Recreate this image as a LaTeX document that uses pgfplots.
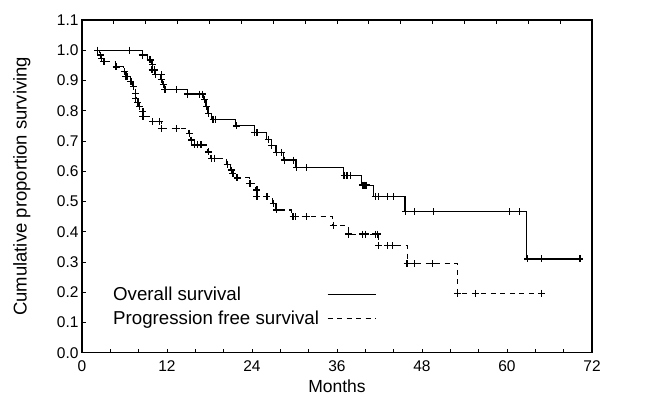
\documentclass[border=0pt]{standalone}
\usepackage{fontspec}
\setmainfont{Liberation Sans}
\usepackage{pgfplots}
\usepackage{pgfplotstable}
\pgfplotsset{compat=1.18}

% overall survival: step points (month, proportion)
\pgfplotstableread{
m s
2.2 1.000
8.5 0.984
9.3 0.968
9.8 0.952
9.9 0.935
10.3 0.919
11.1 0.903
11.4 0.887
11.6 0.871
14.9 0.855
17.1 0.836
17.5 0.814
17.8 0.792
18.3 0.772
21.7 0.750
24.3 0.728
26.1 0.706
26.7 0.684
27.4 0.662
28.5 0.637
30.2 0.612
36.9 0.586
39.5 0.554
41.2 0.517
45.6 0.466
62.8 0.310
70.5 0.310
}\osline

% overall survival: censor marks
\pgfplotstableread{
m s
2.2 1.000
6.7 1.000
8.5 0.984
9.6 0.968
10.0 0.952
9.9 0.935
10.2 0.935
10.4 0.919
11.2 0.919
11.2 0.903
11.5 0.887
11.7 0.871
13.3 0.871
14.9 0.855
16.6 0.855
17.0 0.855
17.3 0.836
17.6 0.814
17.9 0.792
18.5 0.772
18.8 0.772
21.8 0.750
24.4 0.728
24.7 0.728
26.3 0.706
26.8 0.684
27.5 0.662
28.2 0.662
28.6 0.637
29.9 0.637
30.3 0.612
31.7 0.612
37.0 0.586
37.4 0.586
37.9 0.586
39.6 0.554
39.8 0.554
40.1 0.554
41.4 0.517
41.9 0.517
43.1 0.517
44.0 0.517
45.7 0.466
46.9 0.466
49.6 0.466
60.4 0.466
61.8 0.466
62.9 0.310
64.9 0.310
70.3 0.310
}\osmarks

% progression free survival: step points
\pgfplotstableread{
m s
2.2 1.000
2.5 0.984
2.8 0.973
3.0 0.962
4.7 0.945
5.9 0.929
6.2 0.913
6.8 0.896
7.2 0.879
7.5 0.858
7.7 0.841
7.9 0.828
8.1 0.813
8.5 0.797
8.6 0.780
9.9 0.764
11.2 0.742
15.1 0.725
15.4 0.703
15.6 0.687
17.8 0.664
18.2 0.643
20.4 0.623
21.0 0.604
21.3 0.593
21.8 0.578
23.6 0.560
24.5 0.538
24.7 0.516
26.9 0.494
27.4 0.472
29.6 0.450
35.4 0.421
37.6 0.392
41.9 0.354
45.9 0.294
53.0 0.196
64.9 0.196
}\pfsline

% progression free survival: censor marks
\pgfplotstableread{
m s
2.6 0.984
2.8 0.973
3.1 0.962
4.8 0.945
6.0 0.929
6.2 0.913
6.4 0.913
6.9 0.896
7.3 0.879
7.6 0.858
7.6 0.841
7.9 0.828
8.1 0.813
8.6 0.797
8.6 0.780
10.0 0.764
10.9 0.764
11.2 0.742
13.3 0.742
15.2 0.725
15.5 0.703
15.9 0.687
16.3 0.687
16.8 0.687
17.9 0.664
18.3 0.643
18.7 0.643
20.5 0.623
21.1 0.604
21.3 0.593
21.9 0.578
23.7 0.560
24.7 0.538
24.7 0.516
26.1 0.516
27.0 0.494
27.5 0.472
29.8 0.450
30.1 0.450
31.7 0.450
35.5 0.421
37.6 0.392
39.6 0.392
40.0 0.392
41.4 0.392
41.7 0.392
41.9 0.354
43.1 0.354
43.8 0.354
45.9 0.294
46.9 0.294
49.5 0.294
53.0 0.196
55.6 0.196
64.9 0.196
}\pfsmarks

\begin{document}
\begin{tikzpicture}
\begin{axis}[
  at={(82bp,47.3bp)}, anchor=south west,
  scale only axis, width=510bp, height=332.7bp,
  xmin=0, xmax=72, ymin=0, ymax=1.1,
  xtick={0,12,24,36,48,60,72},
  xticklabels={0,12,24,36,48,60,72},
  minor x tick num=2,
  ytick={0,0.1,0.2,0.3,0.4,0.5,0.6,0.7,0.8,0.9,1.0,1.1},
  yticklabels={0.0,0.1,0.2,0.3,0.4,0.5,0.6,0.7,0.8,0.9,1.0,1.1},
  xtick pos=left, ytick pos=left,
  tick align=inside,
  major tick length=4bp, minor tick length=4bp,
  every tick/.style={black, line width=0.9bp},
  axis line style={line width=1.1bp},
  tick label style={font=\fontsize{15.5bp}{18bp}\selectfont},
  xticklabel style={yshift=-4bp},
  xlabel={Months},
  ylabel={Cumulative proportion surviving},
  xlabel style={font=\fontsize{17.5bp}{21bp}\selectfont, at={(axis description cs:0.5,-0.1)}, anchor=center},
  ylabel style={font=\fontsize{18.5bp}{21bp}\selectfont, at={(axis description cs:-0.118,0.5)}, anchor=center},
  legend style={draw=none, fill=none, at={(0.0588,0.2005)}, anchor=north west,
    font=\fontsize{18.7bp}{22bp}\selectfont, inner sep=0pt, row sep=7bp, column sep=7bp,
    nodes={inner sep=1bp}},
  legend cell align=left, legend plot pos=right,
  legend image code/.code={\draw[#1] (0bp,0bp) -- (48bp,0bp);},
]
\addplot[black, line width=1.2bp, const plot] table[x=m, y=s] {\osline};
\addlegendentry{Overall survival}
\addplot[black, line width=1.2bp, const plot, dash pattern=on 5bp off 4.5bp] table[x=m, y=s] {\pfsline};
\addlegendentry{Progression free survival}
\addplot[black, only marks, mark=+, mark size=3.5bp, mark options={line width=1.3bp, solid}, forget plot] table[x=m, y=s] {\osmarks};
\addplot[black, only marks, mark=+, mark size=3.5bp, mark options={line width=1.3bp, solid}, forget plot] table[x=m, y=s] {\pfsmarks};
\end{axis}
% minor ticks along the top edge
\begin{axis}[
  at={(82bp,47.3bp)}, anchor=south west,
  scale only axis, width=510bp, height=332.7bp,
  xmin=0, xmax=72, ymin=0, ymax=1.1,
  xtick={4.5,9,...,67.5}, xticklabel=\empty, xtick pos=right,
  ytick=\empty,
  tick align=inside, major tick length=4bp,
  every tick/.style={black, line width=0.9bp},
  axis line style={draw=none},
]
\end{axis}
\pgfresetboundingbox
\path[use as bounding box] (0,0) rectangle (649bp,400bp);
\end{tikzpicture}
\end{document}
